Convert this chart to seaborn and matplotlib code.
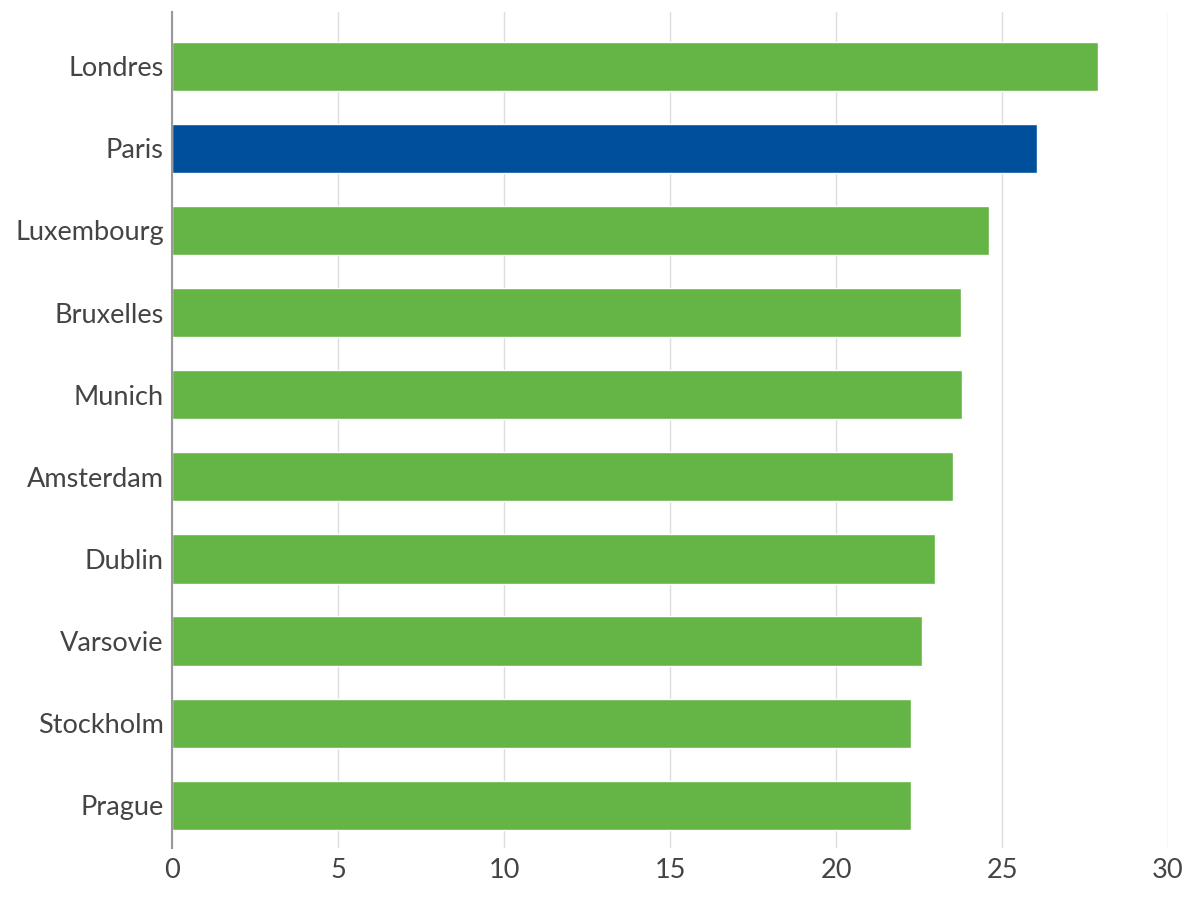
import seaborn as sns
import matplotlib.pyplot as plt
import pandas as pd

# Villes et valeurs
villes = ['Londres', 'Paris', 'Luxembourg', 'Bruxelles', 'Munich',
          'Amsterdam', 'Dublin', 'Varsovie', 'Stockholm', 'Prague']
valeurs = [27.89, 26.06, 24.6, 23.77, 23.79, 23.51, 22.99, 22.59, 22.26, 22.25]
ticks_x = [0, 5, 10, 15, 20, 25, 30]

vert = '#65b446'
bleu = '#004f9c'
couleurs = [bleu if v == 'Paris' else vert for v in villes]

df = pd.DataFrame({'ville': villes, 'valeur': valeurs})

sns.set_style('white')
plt.rcParams['font.family'] = ['Lato', 'DejaVu Sans']

fig = plt.figure(figsize=(12, 9), dpi=100)
ax = fig.add_axes([172 / 1200, 1 - 848 / 900, 996 / 1200, 836 / 900])

sns.barplot(data=df, x='valeur', y='ville', hue='ville', palette=couleurs,
            legend=False, width=0.6, orient='h', ax=ax, saturation=1)

ax.set_xlim(0, 30)
ax.set_ylim(9.52, -0.66)
ax.set_xticks(ticks_x)
ax.xaxis.grid(True, color='#dddddd', linewidth=1)
ax.set_axisbelow(True)
ax.set_xlabel('')
ax.set_ylabel('')

for s in ['top', 'right', 'bottom']:
    ax.spines[s].set_visible(False)
ax.spines['left'].set_color('#999999')
ax.spines['left'].set_linewidth(1.5)

ax.tick_params(axis='both', length=0, labelsize=19.5, labelcolor='#444444')
ax.tick_params(axis='y', pad=6)
ax.tick_params(axis='x', pad=7)

fig.savefig('out.png', dpi=100)
